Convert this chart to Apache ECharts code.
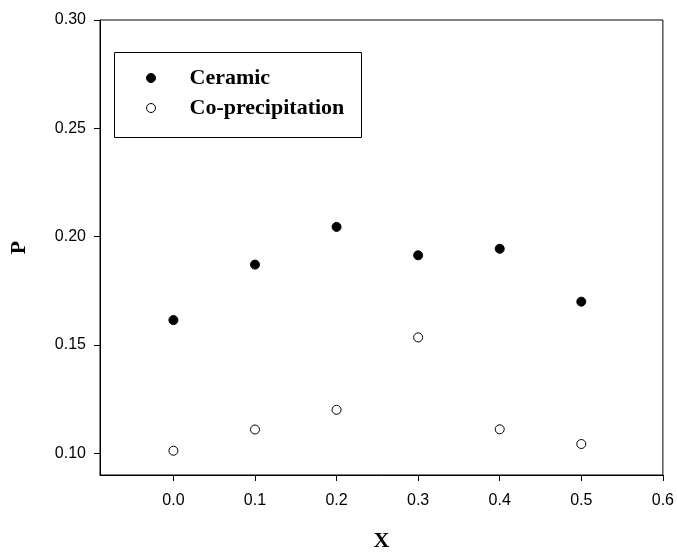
<!DOCTYPE html>
<html>
<head>
<meta charset="utf-8">
<script src="https://cdn.jsdelivr.net/npm/echarts@6/dist/echarts.min.js"></script>
<style>
  html, body { margin: 0; padding: 0; background: #fff; }
  #chart { width: 677px; height: 557px; }
</style>
</head>
<body>
<div id="chart"></div>
<script>
// Composition x and the measured P for the two synthesis routes
const xValues = [0.0, 0.1, 0.2, 0.3, 0.4, 0.5];
const ceramicP = [0.1615, 0.1871, 0.2045, 0.1914, 0.1944, 0.1700];
const coprecipP = [0.1012, 0.1110, 0.1201, 0.1535, 0.1111, 0.1043];
const xTicks = [0.0, 0.1, 0.2, 0.3, 0.4, 0.5, 0.6];
const yTicks = [0.10, 0.15, 0.20, 0.25, 0.30];
const seriesNames = ['Ceramic', 'Co-precipitation'];

const pairs = (xs, ys) => xs.map((x, i) => [x, ys[i]]);

const chart = echarts.init(document.getElementById('chart'), null, { renderer: 'canvas' });

const tickFont = { fontFamily: 'Liberation Sans, Arial, sans-serif', fontSize: 16, color: '#000' };
const titleFont = { fontFamily: 'Liberation Serif, Times New Roman, serif', fontWeight: 'bold', fontSize: 22, color: '#000' };

chart.setOption({
  animation: false,
  backgroundColor: '#fff',
  grid: {
    left: 91, top: 20, right: 13, bottom: 78,
    show: true, borderColor: '#000', borderWidth: 1, backgroundColor: 'transparent'
  },
  xAxis: {
    type: 'value',
    min: -0.09, max: 0.6,
    name: 'X',
    nameLocation: 'middle',
    nameGap: 55,
    nameTextStyle: titleFont,
    axisLine: { show: true, onZero: false, lineStyle: { color: '#000', width: 1 } },
    axisTick: {
      show: true, length: 6, lineStyle: { color: '#000' },
      customValues: xTicks
    },
    axisLabel: {
      ...tickFont, margin: 18,
      customValues: xTicks,
      formatter: v => v.toFixed(1)
    },
    splitLine: { show: false }
  },
  yAxis: {
    type: 'value',
    min: 0.09, max: 0.30,
    name: 'P',
    nameLocation: 'middle',
    nameGap: 70,
    nameRotate: 90,
    nameTextStyle: titleFont,
    axisLine: { show: true, onZero: false, lineStyle: { color: '#000', width: 1 } },
    axisTick: {
      show: true, length: 6, lineStyle: { color: '#000' },
      customValues: yTicks
    },
    axisLabel: {
      ...tickFont, margin: 14,
      customValues: yTicks,
      formatter: v => v.toFixed(2)
    },
    splitLine: { show: false }
  },
  legend: {
    orient: 'vertical',
    left: 146,
    top: 67,
    itemWidth: 9,
    itemHeight: 9,
    itemGap: 8,
    padding: 0,
    textStyle: { ...titleFont, padding: [0, 0, 0, 29] },
    data: [
      { name: seriesNames[0], icon: 'circle', itemStyle: { color: '#000', borderColor: '#000', borderWidth: 1 } },
      { name: seriesNames[1], icon: 'circle', itemStyle: { color: '#fff', borderColor: '#000', borderWidth: 1 } }
    ]
  },
  graphic: [{
    type: 'rect',
    shape: { x: 114.5, y: 52.5, width: 247, height: 85 },
    style: { fill: 'transparent', stroke: '#000', lineWidth: 1 },
    z: 10
  }],
  series: [
    {
      name: seriesNames[0],
      type: 'scatter',
      symbol: 'circle',
      symbolSize: 9,
      itemStyle: { color: '#000', borderColor: '#000', borderWidth: 1, opacity: 1 },
      data: pairs(xValues, ceramicP)
    },
    {
      name: seriesNames[1],
      type: 'scatter',
      symbol: 'circle',
      symbolSize: 9,
      itemStyle: { color: '#fff', borderColor: '#000', borderWidth: 1, opacity: 1 },
      data: pairs(xValues, coprecipP)
    }
  ]
});
</script>
</body>
</html>
